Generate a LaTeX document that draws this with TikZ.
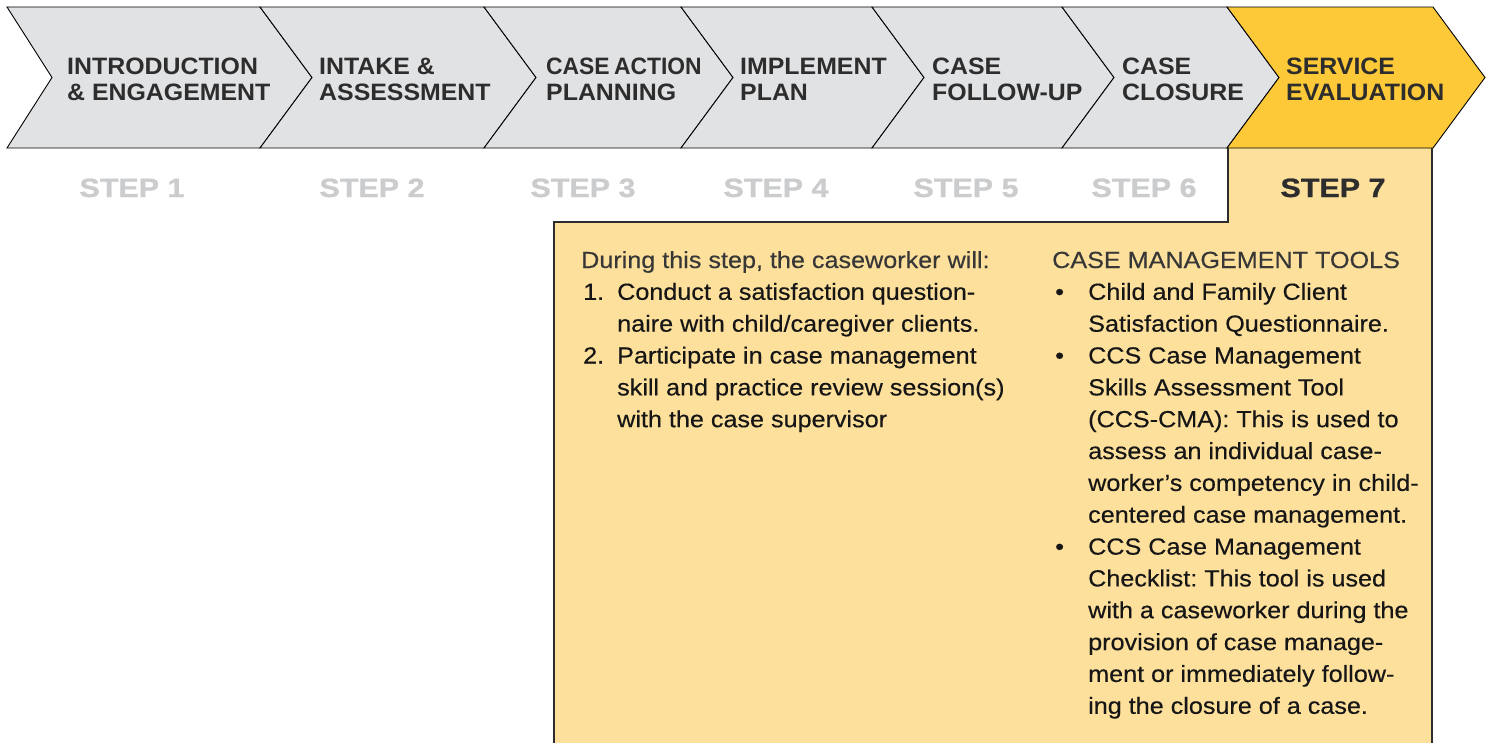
\documentclass[tikz,border=0pt]{standalone}
\usepackage{fontspec}
\setmainfont{Liberation Sans}
\frenchspacing
\newfontfamily\hdfont[FakeStretch=1.05]{Liberation Sans}
\newfontfamily\hdnarrow[FakeStretch=0.965]{Liberation Sans}
\newfontfamily\stfont[FakeStretch=1.15,FakeBold=1]{Liberation Sans}
\newfontfamily\bdfont[FakeStretch=1.08,FakeBold=0.35]{Liberation Sans}
\definecolor{chevgray}{RGB}{225,226,228}
\definecolor{gold}{RGB}{253,201,56}
\definecolor{boxyellow}{RGB}{253,224,155}
\definecolor{stepgray}{RGB}{203,204,206}
\definecolor{hdtext}{RGB}{45,45,45}
\definecolor{bodytext}{RGB}{22,22,22}
\definecolor{leadtext}{RGB}{55,55,55}
\begin{document}
\begin{tikzpicture}[x=1pt,y=-1pt,
  chev/.style={draw=black, line width=0.9pt, fill=chevgray, line join=miter},
  boxline/.style={draw=hdtext, line width=1.3pt},
  hd/.style={anchor=base west, inner sep=0pt, text=hdtext, font=\hdfont\bfseries\fontsize{23.7}{26}\selectfont},
  stp/.style={anchor=base, inner sep=0pt, text=stepgray, font=\stfont\bfseries\fontsize{26.5}{30}\selectfont},
  bd/.style={anchor=base west, inner sep=0pt, text=bodytext, font=\bdfont\fontsize{23.3}{30}\selectfont\frenchspacing},
  lead/.style={bd, text=leadtext}
]
\useasboundingbox (0,0) rectangle (1489,742);
% light yellow panel
\path[fill=boxyellow] (554,760) -- (554,222) -- (1228,222) -- (1228,148) -- (1432,148) -- (1432,760) -- cycle;
\draw[boxline] (554,760) -- (554,222) -- (1228,222) -- (1228,148);
\draw[boxline] (1432,148) -- (1432,760);
% chevrons
\draw[chev] (7,7) -- (260,7) -- (312,77.5) -- (260,148) -- (7,148) -- (52,77.5) -- cycle;
\foreach \l/\r in {260/484, 484/681, 681/872, 872/1062, 1062/1227}
  \draw[chev] (\l,7) -- (\r,7) -- (\r+52,77.5) -- (\r,148) -- (\l,148) -- (\l+52,77.5) -- cycle;
\draw[chev, fill=gold] (1227,7) -- (1433,7) -- (1485,77.5) -- (1433,148) -- (1227,148) -- (1279,77.5) -- cycle;
% chevron titles
\node[hd] (h1a) at (67,74) {INTRODUCTION};
\node[hd] (h1b) at (67,100) {\& ENGAGEMENT};
\node[hd] (h2a) at (319,74) {INTAKE \&};
\node[hd] (h2b) at (319,100) {ASSESSMENT};
\node[hd, font=\hdnarrow\bfseries\fontsize{23.7}{26}\selectfont] (h3a) at (546,74) {CASE\hspace{-2pt} ACTION};
\node[hd] (h3b) at (546,100) {PLANNING};
\node[hd] (h4a) at (740,74) {IMPLEMENT};
\node[hd] (h4b) at (740,100) {PLAN};
\node[hd] (h5a) at (932,74) {CASE};
\node[hd] (h5b) at (932,100) {FOLLOW-UP};
\node[hd] (h6a) at (1122,74) {CASE};
\node[hd] (h6b) at (1122,100) {CLOSURE};
\node[hd] (h7a) at (1286,74) {SERVICE};
\node[hd] (h7b) at (1286,100) {EVALUATION};
% step labels
\node[stp] (s1) at (132,197) {STEP 1};
\node[stp] (s2) at (372,197) {STEP 2};
\node[stp] (s3) at (583,197) {STEP 3};
\node[stp] (s4) at (776,197) {STEP 4};
\node[stp] (s5) at (966,197) {STEP 5};
\node[stp] (s6) at (1144,197) {STEP 6};
\node[stp, text=hdtext] (s7) at (1333,197) {STEP 7};
% left column
\node[lead] (l0) at (581,268) {During this step, the caseworker will:};
\node[bd] (n1) at (583,299.8) {1.};
\node[bd] (l1) at (617,299.8) {Conduct a satisfaction question-};
\node[bd] (l2) at (617,331.7) {naire with child/caregiver clients.};
\node[bd] (n2) at (583,363.5) {2.};
\node[bd] (l3) at (617,363.5) {Participate in case management};
\node[bd] (l4) at (617,395.4) {skill and practice review session(s)};
\node[bd] (l5) at (617,427.2) {with the case supervisor};
% right column
\node[lead] (r0) at (1052,268) {CASE MANAGEMENT TOOLS};
\foreach \y/\n in {299.8/b1, 363.5/b2, 554.6/b3}
  \node[bd] (\n) at (1055,\y) {•};
\node[bd] (r1) at (1088,299.8) {Child and Family Client};
\node[bd] (r2) at (1088,331.7) {Satisfaction Questionnaire.};
\node[bd] (r3) at (1088,363.5) {CCS Case Management};
\node[bd] (r4) at (1088,395.4) {Skills Assessment Tool};
\node[bd] (r5) at (1088,427.2) {(CCS-CMA): This is used to};
\node[bd] (r6) at (1088,459.0) {assess an individual case-};
\node[bd] (r7) at (1088,490.9) {worker’s competency in child-};
\node[bd] (r8) at (1088,522.7) {centered case management.};
\node[bd] (r9) at (1088,554.6) {CCS Case Management};
\node[bd] (r10) at (1088,586.4) {Checklist: This tool is used};
\node[bd] (r11) at (1088,618.2) {with a caseworker during the};
\node[bd] (r12) at (1088,650.1) {provision of case manage-};
\node[bd] (r13) at (1088,681.9) {ment or immediately follow-};
\node[bd] (r14) at (1088,713.8) {ing the closure of a case.};
\end{tikzpicture}
\end{document}
